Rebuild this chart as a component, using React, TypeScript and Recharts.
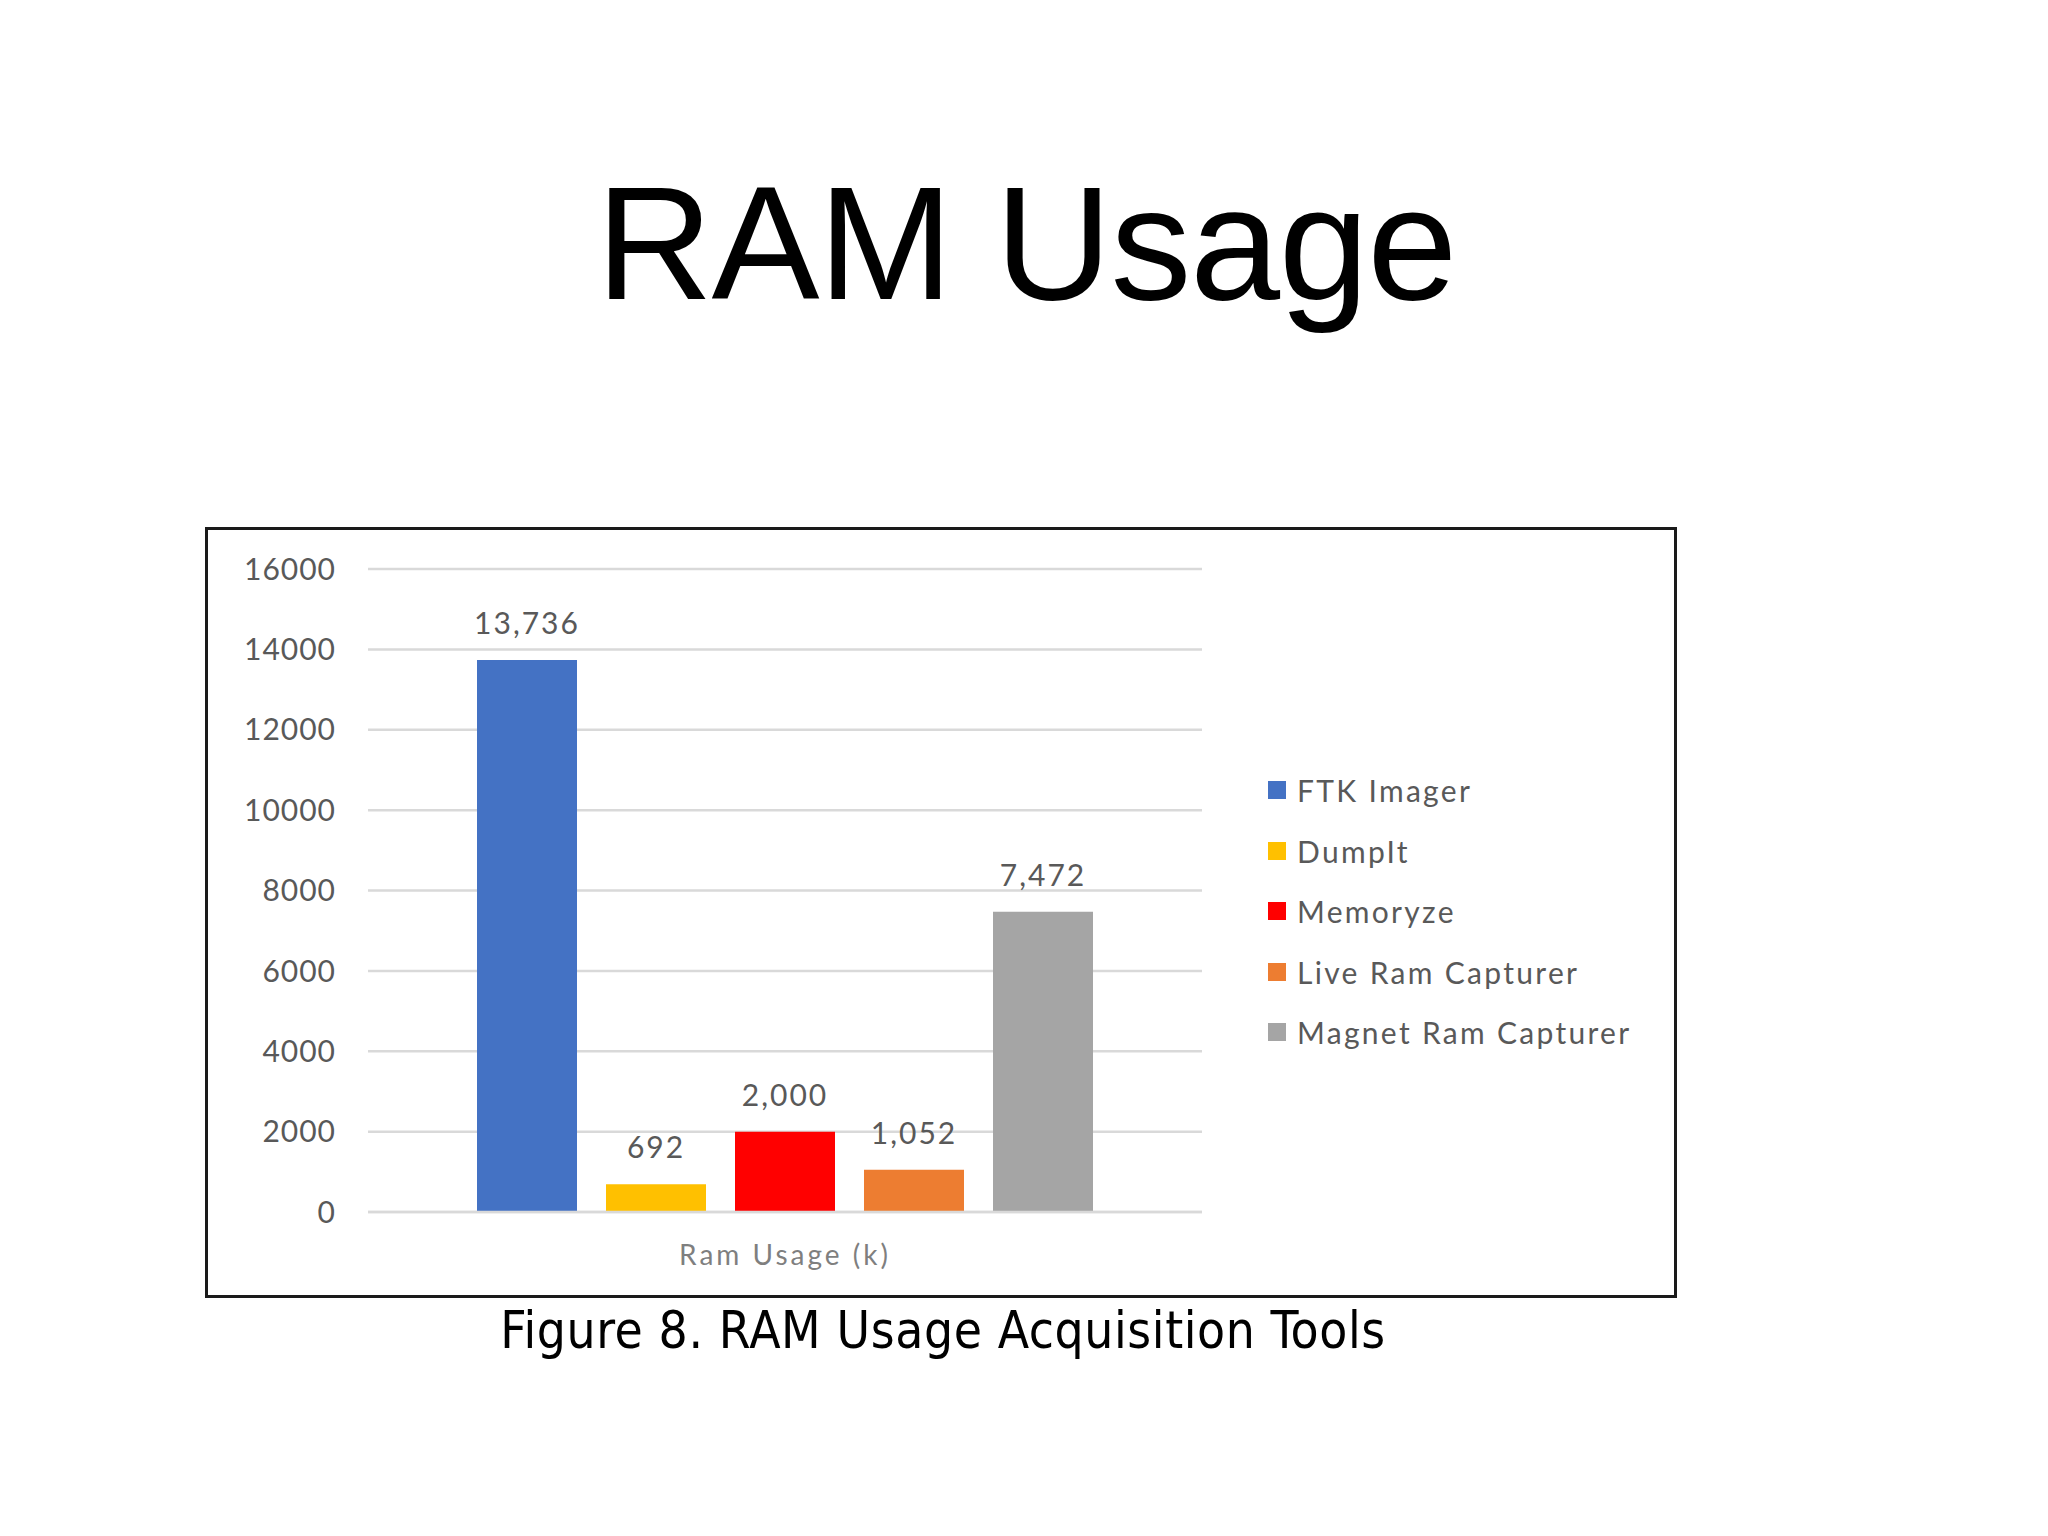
import { BarChart, Bar, XAxis, YAxis, CartesianGrid, Legend, LabelList } from 'recharts';

const CATEGORY = 'Ram Usage (k)';
const TOOLS = ['FTK Imager', 'DumpIt', 'Memoryze', 'Live Ram Capturer', 'Magnet Ram Capturer'];
const USAGE = [13736, 692, 2000, 1052, 7472];
const COLORS = ['#4472C4', '#FFC000', '#FF0000', '#ED7D31', '#A5A5A5'];
const Y_TICKS = [0, 2000, 4000, 6000, 8000, 10000, 12000, 14000, 16000];

const data = [
  TOOLS.reduce<Record<string, string | number>>(
    (row, tool, i) => {
      row[tool] = USAGE[i];
      return row;
    },
    { name: CATEGORY }
  ),
];

const FONT = 'Lato, "Open Sans", sans-serif';
const GREY_TEXT = '#595959';

function formatValue(v: unknown) {
  return Number(v).toLocaleString('en-US');
}

function ToolLegend() {
  return (
    <div style={{ fontFamily: FONT, fontSize: 30, color: GREY_TEXT, letterSpacing: 2.3 }}>
      {TOOLS.map((tool, i) => (
        <div key={tool} style={{ display: 'flex', alignItems: 'center', height: 60.5 }}>
          <span style={{ width: 18, height: 18, backgroundColor: COLORS[i], marginRight: 11, display: 'inline-block', flexShrink: 0 }} />
          <span style={{ whiteSpace: 'nowrap' }}>{tool}</span>
        </div>
      ))}
    </div>
  );
}

export default function App() {
  return (
    <div style={{ position: 'absolute', left: 0, top: 0, width: 2048, height: 1536, background: '#fff', overflow: 'hidden' }}>
      <svg width={2048} height={1536} style={{ position: 'absolute', left: 0, top: 0 }}>
        <text x={1026} y={299} textAnchor="middle" fontFamily='"Liberation Sans", Arial, sans-serif' fontSize={162} fill="#000" letterSpacing={-1.5}>
          RAM Usage
        </text>
        <text x={943} y={1348} textAnchor="middle" fontFamily='"DejaVu Sans", sans-serif' fontSize={51} fill="#000" letterSpacing={0.6} style={{ fontStretch: 'condensed' }}>
          Figure 8. RAM Usage Acquisition Tools
        </text>
      </svg>

      <div style={{ position: 'absolute', left: 205, top: 527, width: 1472, height: 771, border: '3px solid #1a1a1a', boxSizing: 'border-box' }} />

      <div style={{ position: 'absolute', left: 208, top: 530 }}>
        <BarChart
          width={1466}
          height={765}
          data={data}
          margin={{ top: 39, right: 472, left: 60, bottom: 43 }}
          barGap={29}
          barSize={100}
        >
          <CartesianGrid vertical={false} stroke="#d9d9d9" strokeWidth={2.5} />
          <XAxis
            dataKey="name"
            height={40}
            axisLine={{ stroke: '#d9d9d9', strokeWidth: 2.5 }}
            tickLine={false}
            tickSize={0}
            tickMargin={33}
            tick={{ fontFamily: FONT, fontSize: 28, fill: '#7f7f7f', letterSpacing: 3 }}
          />
          <YAxis
            width={100}
            domain={[0, 16000]}
            ticks={Y_TICKS}
            axisLine={false}
            tickLine={false}
            tickSize={0}
            tickMargin={32}
            tick={{ fontFamily: FONT, fontSize: 30, fill: GREY_TEXT, letterSpacing: 1 }}
          />
          <Legend
            layout="horizontal"
            verticalAlign="middle"
            align="center"
            content={() => <ToolLegend />}
            wrapperStyle={{ left: 1060, top: 230, width: 400 }}
          />
          {TOOLS.map((tool, i) => (
            <Bar key={tool} dataKey={tool} fill={COLORS[i]} isAnimationActive={false}>
              <LabelList
                dataKey={tool}
                position="top"
                offset={26}
                formatter={formatValue}
                style={{ fontFamily: FONT, fontSize: 30, fill: GREY_TEXT, letterSpacing: 2 }}
              />
            </Bar>
          ))}
        </BarChart>
      </div>
    </div>
  );
}
